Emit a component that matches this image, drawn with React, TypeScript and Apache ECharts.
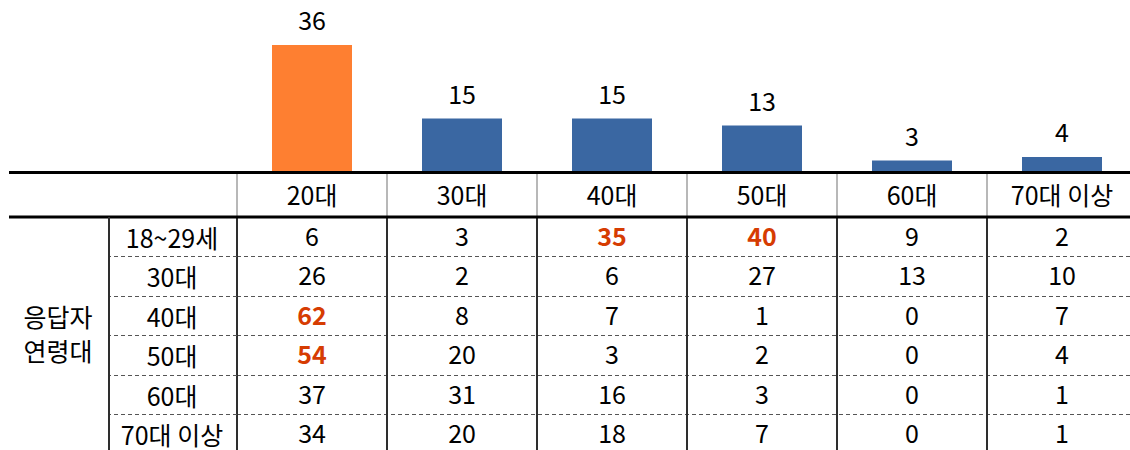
import React, { useEffect, useRef } from "react";
import * as echarts from "echarts";

const FONT = '"Noto Sans CJK KR", "Noto Sans", sans-serif';

const columns = ["20대", "30대", "40대", "50대", "60대", "70대 이상"];
const barValues = [36, 15, 15, 13, 3, 4];
const highlightBar = 0;

const rowLabels = ["18~29세", "30대", "40대", "50대", "60대", "70대 이상"];
const row18to29 = [6, 3, 35, 40, 9, 2];
const row30s = [26, 2, 6, 27, 13, 10];
const row40s = [62, 8, 7, 1, 0, 7];
const row50s = [54, 20, 3, 2, 0, 4];
const row60s = [37, 31, 16, 3, 0, 1];
const row70plus = [34, 20, 18, 7, 0, 1];
const tableRows = [row18to29, row30s, row40s, row50s, row60s, row70plus];
// [rowIndex, colIndex]
const highlightCells = [
  [0, 2],
  [0, 3],
  [2, 0],
  [3, 0],
];
const rowGroupTitle = "응답자\n연령대";

const ORANGE = "#FE7F31";
const BLUE = "#3A67A2";
const RED = "#D63C02";
const TEXT = "#000000";
const FS = 25;

export default function App() {
  const ref = useRef<HTMLDivElement>(null);

  useEffect(() => {
    if (!ref.current) return;
    const chart = echarts.init(ref.current, null, { renderer: "svg" });

    const cellData: any[] = [];
    tableRows.forEach((row, r) => {
      row.forEach((v, c) => {
        const hl = highlightCells.some(([hr, hc]) => hr === r && hc === c);
        cellData.push({
          value: [c, r, v],
          label: hl
            ? { color: RED, fontWeight: "bold" }
            : { color: TEXT, fontWeight: "normal" },
        });
      });
    });

    const option: any = {
      animation: false,
      textStyle: { fontFamily: FONT },
      grid: [
        { left: 237, width: 900, top: 31, height: 140, outerBoundsMode: "none", containLabel: false },
        { left: 237, width: 900, top: 217, height: 237, outerBoundsMode: "none", containLabel: false },
      ],
      xAxis: [
        {
          type: "category",
          gridIndex: 0,
          data: columns,
          axisLine: { show: false },
          axisTick: { show: true, length: 46, lineStyle: { color: "#a0a0a0", width: 1.5 } },
          axisLabel: {
            interval: 0,
            fontSize: FS,
            color: TEXT,
            margin: 10,
            lineHeight: 26,
            fontFamily: FONT,
          },
        },
        {
          type: "category",
          gridIndex: 1,
          data: columns,
          axisLine: { show: false },
          axisTick: { show: false },
          axisLabel: { show: false },
          splitLine: { show: true, interval: 0, lineStyle: { color: "#2e2e2e", width: 2 } },
        },
      ],
      yAxis: [
        { type: "value", gridIndex: 0, min: 0, max: 40, show: false },
        {
          type: "category",
          gridIndex: 1,
          data: rowLabels,
          inverse: true,
          axisLine: { show: true, lineStyle: { color: "#2e2e2e", width: 2 } },
          axisTick: {
            show: true,
            interval: 0,
            length: 128,
            lineStyle: { color: "#555", width: 1, type: [4, 3] },
          },
          axisLabel: {
            interval: 0,
            fontSize: FS,
            lineHeight: 22,
            color: TEXT,
            align: "center",
            margin: 65,
            padding: [0, 0, 7, 0],
            fontFamily: FONT,
          },
          splitLine: {
            show: true,
            interval: 0,
            lineStyle: { color: "#555", width: 1, type: [4, 3] },
          },
        },
      ],
      series: [
        {
          type: "bar",
          xAxisIndex: 0,
          yAxisIndex: 0,
          barWidth: 80,
          data: barValues.map((v, i) => ({
            value: v,
            itemStyle: { color: i === highlightBar ? ORANGE : BLUE },
          })),
          label: {
            show: true,
            position: "top",
            distance: 14,
            fontSize: FS,
            lineHeight: 24,
            color: TEXT,
            fontFamily: FONT,
          },
        },
        {
          type: "scatter",
          xAxisIndex: 1,
          yAxisIndex: 1,
          symbolSize: 1,
          silent: true,
          itemStyle: { color: "transparent", opacity: 1 },
          label: {
            show: true,
            position: "inside",
            offset: [0, -2],
            fontSize: FS,
            lineHeight: 24,
            fontFamily: FONT,
            formatter: (p: any) => String(p.value[2]),
          },
          data: cellData,
        },
      ],
      graphic: [
        {
          type: "line",
          z: 100,
          shape: { x1: 9, y1: 172.5, x2: 1130, y2: 172.5 },
          style: { stroke: "#000", lineWidth: 3 },
        },
        {
          type: "line",
          z: 100,
          shape: { x1: 9, y1: 217, x2: 1130, y2: 217 },
          style: { stroke: "#000", lineWidth: 3 },
        },
        {
          type: "line",
          z: 100,
          shape: { x1: 109, y1: 217, x2: 109, y2: 450 },
          style: { stroke: "#2e2e2e", lineWidth: 2 },
        },
        {
          type: "text",
          z: 100,
          x: 58,
          y: 333,
          style: {
            text: rowGroupTitle,
            fontSize: FS,
            fontFamily: FONT,
            fill: TEXT,
            align: "center",
            verticalAlign: "middle",
            lineHeight: 34,
          },
        },
      ],
    };

    chart.setOption(option);
    return () => chart.dispose();
  }, []);

  return (
    <div
      ref={ref}
      style={{ position: "absolute", left: 0, top: 0, width: 1130, height: 450 }}
    />
  );
}
